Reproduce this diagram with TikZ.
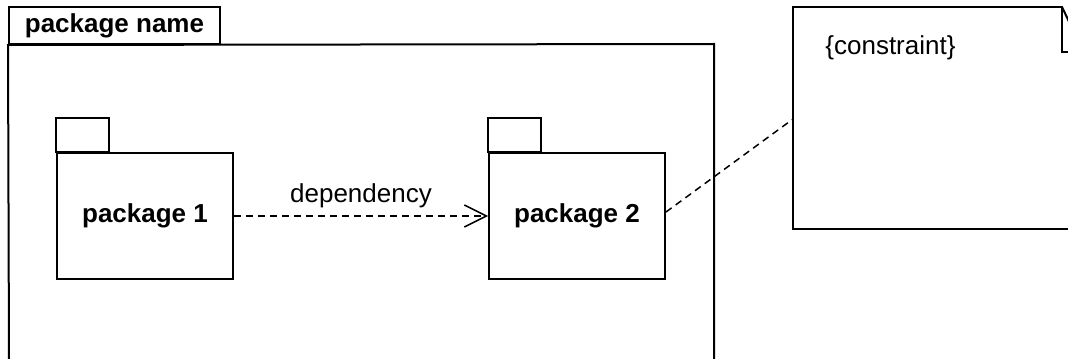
\documentclass[tikz,border=0pt]{standalone}
\usepackage{fontspec}
\setmainfont{Liberation Sans}
\usetikzlibrary{arrows.meta,positioning}

\begin{document}
\begin{tikzpicture}[x=0.5pt,y=-0.5pt,
            every node/.style={font=\fontsize{13}{15}\selectfont},
            tabbox/.style={draw,line width=1pt,minimum width=105.5pt,minimum height=18.5pt,inner sep=0pt,font=\fontsize{13}{15}\selectfont\bfseries},
            package/.style={draw,line width=1pt,minimum width=88pt,minimum height=63pt,font=\fontsize{13}{15}\selectfont\bfseries},
            outline/.style={line width=1pt},
            depend/.style={draw,dash pattern=on 3.5pt off 2.5pt,line width=0.75pt,-{Straight Barb[length=11pt,width=11pt]}},
            anchorline/.style={draw,dash pattern=on 3.5pt off 2.5pt,line width=0.75pt}
            ]
            \useasboundingbox (0,0) rectangle (1068,358);
            % outer package
            \node[tabbox] (title) at (114.5,25.5) {package name};
            \draw[outline] (9,362) -- (title.south west) -- (714,44) -- (714,362);
            % inner packages
            \node[package] (p1) at (145,216) {package 1};
            \node[package,right=127pt of p1] (p2) {package 2};
            \draw[outline] (p1.north west) rectangle ++(53,-34);
            \draw[outline] (p2.north west) rectangle ++(53,-34);
            \draw[depend] (p1.east) -- node[above=0.5pt] (dep) {dependency} (p2.west);
            % note
            \draw[outline] (1072,229) -- (793,229) -- (793,7) -- (1062,7) -- (1062,52) -- (1072,52);
            \draw[outline] (1062,7) -- (1072,28);
            \node[anchor=west,inner sep=0pt] (constraint) at (825,48) {\{constraint\}};
            \coordinate (noteside) at (793,119);
            \draw[anchorline] ([yshift=2pt]p2.east) -- (noteside);
        \end{tikzpicture}
\end{document}
